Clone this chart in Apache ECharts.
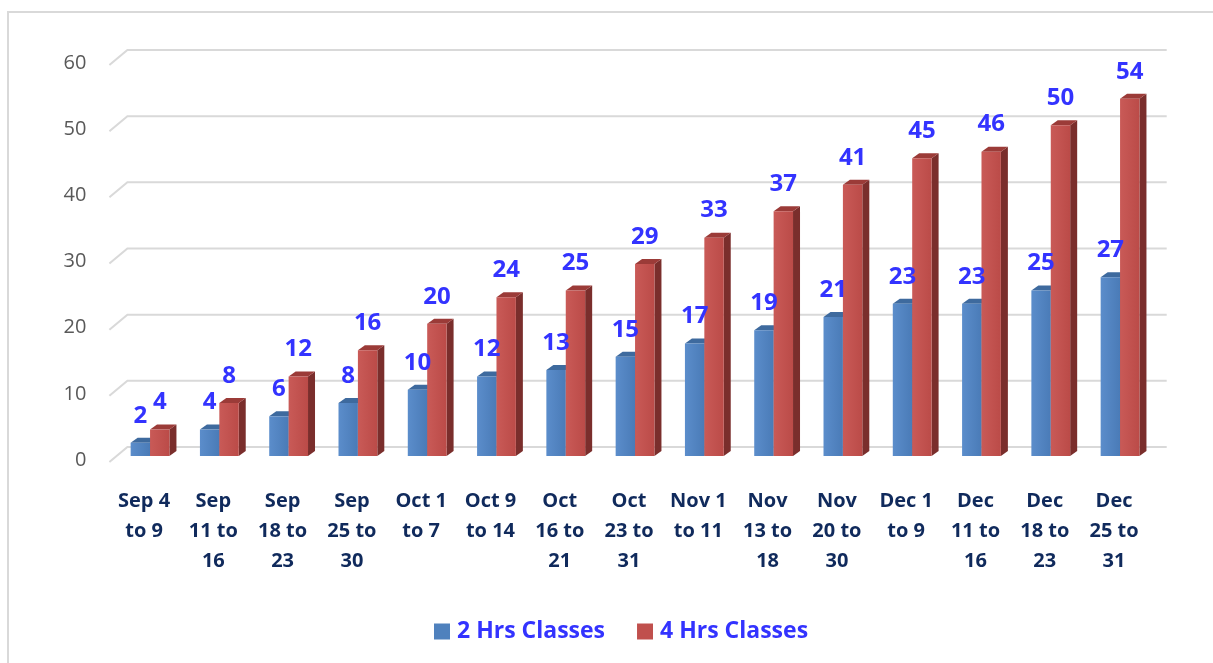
<!DOCTYPE html>
<html>
<head>
<meta charset="utf-8">
<script src="https://cdn.jsdelivr.net/npm/echarts@6/dist/echarts.min.js"></script>
<style>
  html, body { margin: 0; padding: 0; background: #fff; }
  #chart { width: 1213px; height: 663px; }
</style>
</head>
<body>
<div id="chart"></div>
<script>
const categories = [
  'Sep 4\nto 9', 'Sep\n11 to\n16', 'Sep\n18 to\n23', 'Sep\n25 to\n30',
  'Oct 1\nto 7', 'Oct 9\nto 14', 'Oct\n16 to\n21', 'Oct\n23 to\n31',
  'Nov 1\nto 11', 'Nov\n13 to\n18', 'Nov\n20 to\n30', 'Dec 1\nto 9',
  'Dec\n11 to\n16', 'Dec\n18 to\n23', 'Dec\n25 to\n31'
]
const twoHrs = [2, 4, 6, 8, 10, 12, 13, 15, 17, 19, 21, 23, 23, 25, 27]
const fourHrs = [4, 8, 12, 16, 20, 24, 25, 29, 33, 37, 41, 45, 46, 50, 54]
const yTicks = [0, 10, 20, 30, 40, 50, 60]

const FONT = '"Open Sans", sans-serif'
const DEPTH_X = 7
const DEPTH_Y = -5
const BAR_RATIO = 0.28
const BAR_LIFT = 4 // bars stand a bit behind the front plane

// back wall grid lines with the little diagonal toward the front plane
function renderWall(params, api) {
  const cs = params.coordSys
  const y = api.coord([0, api.value(1)])[1]
  return {
    type: 'polyline',
    shape: {
      points: [
        [cs.x - 6, y + 2],
        [cs.x + 12, y - 13],
        [cs.x + cs.width + 12, y - 13]
      ]
    },
    style: { stroke: '#d9d9d9', lineWidth: 2, fill: null },
    silent: true
  }
}

function barBox(api, side) {
  const pTop = api.coord([api.value(0), api.value(1)])
  const pBase = api.coord([api.value(0), 0])
  const w = api.size([1, 0])[0] * BAR_RATIO
  const x0 = side < 0 ? pTop[0] - w : pTop[0]
  return { x0, x1: x0 + w, yt: pTop[1] - BAR_LIFT, yb: pBase[1] - BAR_LIFT }
}

function bar3d(colors, side) {
  return function (params, api) {
    const { x0, x1, yt, yb } = barBox(api, side)
    return {
      type: 'group',
      children: [
        {
          type: 'polygon',
          shape: { points: [[x1, yt], [x1 + DEPTH_X, yt + DEPTH_Y], [x1 + DEPTH_X, yb + DEPTH_Y], [x1, yb]] },
          style: { fill: colors.side }
        },
        {
          type: 'polygon',
          shape: { points: [[x0, yt], [x0 + DEPTH_X, yt + DEPTH_Y], [x1 + DEPTH_X, yt + DEPTH_Y], [x1, yt]] },
          style: { fill: colors.top }
        },
        {
          type: 'rect',
          shape: { x: x0, y: yt, width: x1 - x0, height: yb - yt },
          style: {
            fill: new echarts.graphic.LinearGradient(0, 0, 1, 0, [
              { offset: 0, color: colors.light },
              { offset: 1, color: colors.front }
            ])
          }
        }
      ]
    }
  }
}

function barLabel(side) {
  return function (params, api) {
    const { x0, x1, yt } = barBox(api, side)
    return {
      type: 'text',
      x: (x0 + x1) / 2,
      y: yt - 27,
      style: {
        text: String(api.value(1)),
        fill: '#3333ff',
        font: 'bold 24px ' + FONT,
        align: 'center',
        verticalAlign: 'middle'
      }
    }
  }
}

const chart = echarts.init(document.getElementById('chart'))
chart.setOption({
  backgroundColor: '#fff',
  animation: false,
  graphic: [{
    type: 'rect',
    shape: { x: 8, y: 12, width: 1300, height: 700 },
    style: { fill: null, stroke: '#d9d9d9', lineWidth: 2 },
    silent: true
  }],
  grid: { left: 115.4, right: 58.3, top: 63, bottom: 203 },
  legend: {
    data: ['2 Hrs Classes', '4 Hrs Classes'],
    left: 434,
    top: 620,
    padding: 0,
    icon: 'rect',
    itemWidth: 16,
    itemHeight: 16,
    itemGap: 32,
    textStyle: { color: '#3333ff', fontSize: 23, fontWeight: 'bold', fontFamily: FONT, padding: [0, 0, 0, 2] }
  },
  xAxis: {
    type: 'category',
    data: categories,
    axisLine: { show: false },
    axisTick: { show: false },
    axisLabel: {
      interval: 0,
      margin: 26,
      color: '#102a5c',
      fontSize: 20,
      fontWeight: 'bold',
      fontFamily: FONT,
      lineHeight: 30,
      padding: [0, 12, 0, 0]
    }
  },
  yAxis: {
    type: 'value',
    min: 0,
    max: 60,
    interval: 10,
    axisLine: { show: false },
    axisTick: { show: false },
    splitLine: { show: false },
    axisLabel: { color: '#595959', fontSize: 20, fontFamily: FONT, margin: 29 }
  },
  series: [
    {
      name: 'wall',
      type: 'custom',
      silent: true,
      z: 1,
      renderItem: renderWall,
      data: yTicks.map((v) => [0, v])
    },
    {
      name: '2 Hrs Classes',
      type: 'custom',
      z: 2,
      itemStyle: { color: '#4f81bd' },
      renderItem: bar3d({ front: '#4a7bb7', light: '#5b8dcb', top: '#3e6a9e', side: '#35577f' }, -1),
      data: twoHrs.map((v, i) => [i, v])
    },
    {
      name: '4 Hrs Classes',
      type: 'custom',
      z: 3,
      itemStyle: { color: '#c0504d' },
      renderItem: bar3d({ front: '#bb4b48', light: '#c95a57', top: '#9b3b38', side: '#7a2e2c' }, 1),
      data: fourHrs.map((v, i) => [i, v])
    },
    {
      name: '2 Hrs labels',
      type: 'custom',
      silent: true,
      z: 5,
      renderItem: barLabel(-1),
      data: twoHrs.map((v, i) => [i, v])
    },
    {
      name: '4 Hrs labels',
      type: 'custom',
      silent: true,
      z: 5,
      renderItem: barLabel(1),
      data: fourHrs.map((v, i) => [i, v])
    }
  ]
})
</script>
</body>
</html>
